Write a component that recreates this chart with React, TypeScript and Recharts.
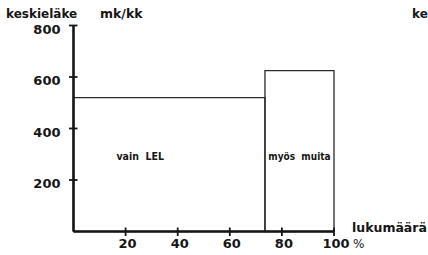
import React from 'react';
import { ComposedChart, XAxis, YAxis, ReferenceArea, Scatter } from 'recharts';

// pension groups: share of recipients (x, %) and mean pension (y, mk/kk)
const groups = ['vain LEL', 'myös muita'];
const shareFrom = [0, 73.5];
const shareTo = [73.5, 100];
const pension = [520, 625];

const xTicks = [20, 40, 60, 80, 100];
const yTicks = [200, 400, 600, 800];

const ink = '#161616';
const boldFont = '"DejaVu Sans", sans-serif';
const narrowFont = '"DejaVu Sans Condensed", "Liberation Sans Narrow", sans-serif';

const data = groups.map((g, i) => ({ name: g, x: shareTo[i], y: pension[i] }));

function YTick({ x, y, payload }: any) {
  return (
    <g>
      <line x1={x - 4.5} x2={x + 4} y1={y} y2={y} stroke={ink} strokeWidth={1.8} />
      <text x={x - 13} y={y + 8} textAnchor="end" fontFamily={boldFont} fontWeight="bold" fontSize={13} fill={ink}>
        {payload.value}
      </text>
    </g>
  );
}

function XTick({ x, y, payload }: any) {
  return (
    <g>
      <line x1={x} x2={x} y1={y - 4} y2={y + 4.5} stroke={ink} strokeWidth={1.8} />
      <text x={x + 2} y={y + 16.5} textAnchor="middle" fontFamily={boldFont} fontWeight="bold" fontSize={13} fill={ink}>
        {payload.value}
      </text>
      {payload.value === 100 && (
        <text x={x + 19} y={y + 16.5} textAnchor="start" fontFamily={boldFont} fontSize={12} fill={ink}>
          %
        </text>
      )}
    </g>
  );
}

// label offsets inside each rectangle (horizontal shift from centre)
const labelShift = [-29, 0];

export default function App() {
  return (
    <div style={{ position: 'absolute', left: 0, top: 0, width: 428, height: 255, background: '#fff' }}>
      <ComposedChart width={428} height={255} data={data} margin={{ top: 25.5, right: 94, bottom: 0, left: 0 }}>
        <XAxis
          type="number"
          dataKey="x"
          domain={[0, 100]}
          ticks={xTicks}
          height={23.5}
          tickSize={0}
          tickMargin={0}
          tickLine={false}
          axisLine={{ stroke: ink, strokeWidth: 2.6 }}
          tick={<XTick />}
          interval={0}
          allowDataOverflow
        />
        <YAxis
          type="number"
          dataKey="y"
          domain={[0, 800]}
          ticks={yTicks}
          width={73.5}
          tickSize={0}
          tickMargin={0}
          tickLine={false}
          axisLine={{ stroke: ink, strokeWidth: 2.6 }}
          tick={<YTick />}
          interval={0}
          allowDataOverflow
        />
        <Scatter dataKey="y" shape={() => <g />} isAnimationActive={false} />
        {groups.map((g, i) => (
          <ReferenceArea
            key={g}
            x1={shareFrom[i]}
            x2={shareTo[i]}
            y1={0}
            y2={pension[i]}
            fill="none"
            fillOpacity={0}
            stroke="#2a2a2a"
            strokeWidth={1.3}
            strokeOpacity={1}
            ifOverflow="visible"
            label={(props: any) => {
              const vb = props.viewBox || {};
              return (
                <text
                  x={vb.x + vb.width / 2 + labelShift[i]}
                  y={vb.y + vb.height - 71.5}
                  textAnchor="middle"
                  fontFamily={narrowFont}
                  fontWeight="bold"
                  fontSize={i === 0 ? 10.5 : 10}
                  fill={ink}
                  style={{ whiteSpace: 'pre' }}
                >
                  {g.replace(' ', '  ')}
                </text>
              );
            }}
          />
        ))}
      </ComposedChart>
      <svg width={428} height={255} style={{ position: 'absolute', left: 0, top: 0, pointerEvents: 'none' }}>
        <text x={6} y={18} fontFamily={boldFont} fontWeight="bold" fontSize={12} fill={ink}>keskieläke</text>
        <text x={100} y={18} fontFamily={boldFont} fontWeight="bold" fontSize={12.5} fill={ink}>mk/kk</text>
        <text x={412} y={18} fontFamily={boldFont} fontWeight="bold" fontSize={12} fill={ink}>ke</text>
        <text x={352} y={232} fontFamily={boldFont} fontWeight="bold" fontSize={12.5} fill={ink}>lukumäärä</text>
      </svg>
    </div>
  );
}
